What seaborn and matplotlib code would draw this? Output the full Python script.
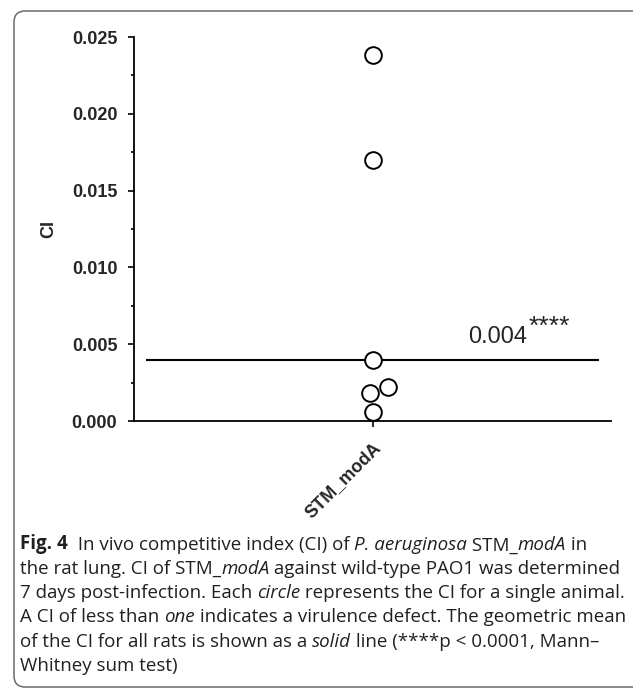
import numpy as np
import pandas as pd
import seaborn as sns
import matplotlib.pyplot as plt
from matplotlib.patches import FancyBboxPatch
from matplotlib.transforms import IdentityTransform
from matplotlib.ticker import MultipleLocator, FormatStrFormatter

# data
strain = ["STM_modA"]
ci_values = [0.0238, 0.0170, 0.0040, 0.0022, 0.0018, 0.0006]
stars = "****"

y_ticks = [0.000, 0.005, 0.010, 0.015, 0.020, 0.025]

caption = [
    [("Fig. 4", "bold"), ("  In vivo competitive index (CI) of ", "normal"), ("P. aeruginosa", "italic"),
     (" STM_", "normal"), ("modA", "italic"), (" in", "normal")],
    [("the rat lung. CI of STM_", "normal"), ("modA", "italic"), (" against wild-type PAO1 was determined", "normal")],
    [("7 days post-infection. Each ", "normal"), ("circle", "italic"), (" represents the CI for a single animal.", "normal")],
    [("A CI of less than ", "normal"), ("one", "italic"), (" indicates a virulence defect. The geometric mean", "normal")],
    [("of the CI for all rats is shown as a ", "normal"), ("solid", "italic"), (" line (****p < 0.0001, Mann\u2013", "normal")],
    [("Whitney sum test)", "normal")],
]

df = pd.DataFrame({"strain": strain * len(ci_values), "CI": ci_values})
gm = np.exp(np.log(df["CI"]).mean())   # geometric mean line

sns.set_style("ticks")
plt.rcParams["font.family"] = ["Liberation Sans", "DejaVu Sans"]

W, H = 633, 688
fig = plt.figure(figsize=(W / 100, H / 100), dpi=100)
ax = fig.add_axes([134 / W, 1 - 421 / H, 477 / W, 384 / H])

sns.swarmplot(data=df, x="strain", y="CI", ax=ax, size=12, color="black",
              linewidth=1.4, zorder=3)
for coll in ax.collections:
    coll.set_facecolor("white")
    coll.set_edgecolor("black")
    coll.set_linewidth(1.4)
    coll.set_clip_on(False)

ax.hlines(gm, -0.475, 0.475, color="black", lw=1.5, zorder=1)
t0 = ax.annotate("{:.3f}".format(gm), xy=(0.2, gm), xytext=(0, 12.7), textcoords="offset points",
                 fontsize=17, va="baseline", ha="left")
ax.annotate(stars, xy=(1, 1), xycoords=t0, xytext=(1, 7.5), textcoords="offset points",
            fontsize=19, va="top", ha="left")

ax.set_xlim(-0.5, 0.5)
ax.set_ylim(0, 0.025)
ax.set_yticks(y_ticks)
ax.yaxis.set_minor_locator(MultipleLocator(0.0025))
ax.yaxis.set_major_formatter(FormatStrFormatter("%.3f"))
ax.tick_params(axis="y", which="major", length=4, width=1.2, pad=8, labelsize=13, color="black")
ax.tick_params(axis="y", which="minor", length=2, width=1.2, color="black")
ax.tick_params(axis="x", length=4, width=1.2, pad=9, labelsize=13, color="black")
for lab in ax.get_yticklabels() + ax.get_xticklabels():
    lab.set_fontweight("bold")
for lab in ax.get_xticklabels():
    lab.set_rotation(45)
    lab.set_ha("right")
    lab.set_va("top")
    lab.set_rotation_mode("anchor")

ax.set_xlabel("")
ax.set_ylabel("CI", fontsize=13, fontweight="bold")
ax.yaxis.set_label_coords(-0.161, 0.5)
sns.despine(ax=ax)
for s in ["left", "bottom"]:
    ax.spines[s].set_linewidth(1.3)
    ax.spines[s].set_color("black")
ax.set_facecolor("none")

# rounded frame around figure + caption
frame = FancyBboxPatch((14, 1), 700, 676, boxstyle="round,pad=0,rounding_size=11",
                       transform=IdentityTransform(), fill=False, edgecolor="#6b6b6b", lw=1.1)
fig.add_artist(frame)

# caption, each line pieced together so bold / italic words can be mixed
cap_size = 13.5
baselines = [549.5, 574, 598, 622.5, 647, 671]
for yb, pieces in zip(baselines, caption):
    txt, st = pieces[0]
    prev = fig.text(20 / W, 1 - yb / H, txt, fontsize=cap_size, family="Open Sans", va="baseline",
                    fontweight="bold" if st == "bold" else "normal",
                    fontstyle="italic" if st == "italic" else "normal", color="#231f20")
    for txt, st in pieces[1:]:
        prev = ax.annotate(txt, xy=(1, 0), xycoords=prev, va="bottom", ha="left",
                           fontsize=cap_size, family="Open Sans", annotation_clip=False,
                           fontweight="bold" if st == "bold" else "normal",
                           fontstyle="italic" if st == "italic" else "normal", color="#231f20")

fig.savefig("out.png", dpi=100)
